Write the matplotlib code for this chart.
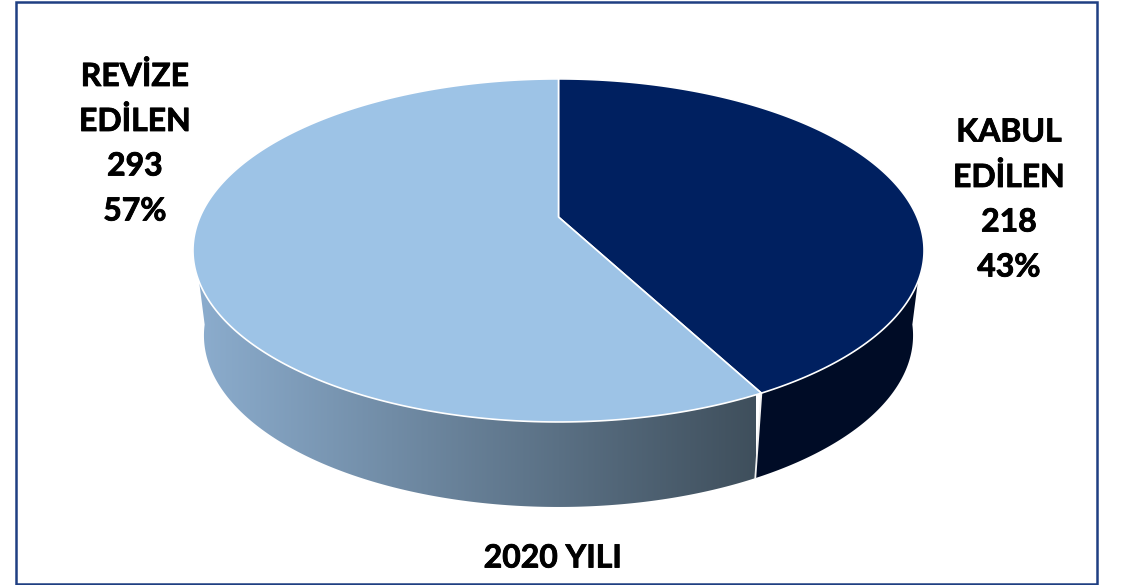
import numpy as np
import matplotlib
matplotlib.use("Agg")
import matplotlib.pyplot as plt
import matplotlib.patheffects as pe
from matplotlib.patches import Polygon, Rectangle

plt.rcParams['font.family'] = ['Lato', 'DejaVu Sans']

# data
labels = ["KABUL\nEDİLEN", "REVİZE\nEDİLEN"]
values = [218, 293]
footer = "2020 YILI"
top_colors = ["#002060", "#9DC3E6"]
wall_dark = "#000C26"
wall_left = "#8CADCE"
wall_right = "#3F4F5C"

W, H = 1130, 585

# projection of the tilted disc, in pixels
cx, apex_y = 558.5, 217
a, b, k = 358.5, 165, -0.195
depth, shrink = 85, 0.97
twist = 3.4  # degrees, small angular distortion of the 3d view
edge_r, edge_l = 101, 259  # where the rim is widest


def rim(deg, lower=False):
    t = np.radians(deg - twist * np.sin(np.radians(deg)))
    u, v = np.sin(t), -np.cos(t)
    d = 1 + k * v
    x = a * u / d
    y = apex_y + b * v / d
    if lower:
        return cx + x * shrink, y + depth
    return cx + x, y


def arc(d0, d1, lower=False, n=240):
    x, y = rim(np.linspace(d0, d1, n), lower)
    return np.column_stack([x, y])


fig = plt.figure(figsize=(W / 100, H / 100), dpi=100)
ax = fig.add_axes([0, 0, 1, 1])
ax.set_xlim(0, W)
ax.set_ylim(H, 0)
ax.axis("off")

ax.add_patch(Rectangle((16, 2), 1081, 582, fill=False, ec="#1F3F82", lw=1.8, zorder=1))

total = sum(values)
seam = 360 * values[0] / total

# side walls
right_wall = np.vstack([arc(edge_r, seam), arc(seam, edge_r, True)])
ax.add_patch(Polygon(right_wall, fc=wall_dark, ec="none", zorder=2))

left_wall = np.vstack([arc(seam, edge_l), arc(edge_l, seam, True)])
patch = Polygon(left_wall, fc="none", ec="none", zorder=2)
ax.add_patch(patch)
c0 = np.array(matplotlib.colors.to_rgb(wall_left))
c1 = np.array(matplotlib.colors.to_rgb(wall_right))
ramp = np.linspace(0, 1, 256)[None, :, None]
grad = c0[None, None, :] * (1 - ramp) + c1[None, None, :] * ramp
im = ax.imshow(grad, extent=(195, 756, 520, 240), aspect="auto", zorder=2)
im.set_clip_path(patch)
ax.set_xlim(0, W)
ax.set_ylim(H, 0)

# wall seam
sx0, sy0 = rim(seam)
sx1, sy1 = rim(seam, True)
ax.plot([sx0, sx1], [sy0, sy1], color="#F2F2F2", lw=1.3, zorder=3)

# top faces
start = 0
for val, col in zip(values, top_colors):
    end = start + 360 * val / total
    pts = np.vstack([[cx, apex_y], arc(start, end)])
    ax.add_patch(Polygon(pts, closed=True, fc=col, ec="white", lw=1.2, joinstyle="round", zorder=4))
    start = end

pct = [f"{round(100 * v / total)}%" for v in values]
heavy = [pe.withStroke(linewidth=0.6, foreground="black")]
txt = dict(ha="center", va="center", fontsize=23, fontweight="bold", color="black",
           zorder=5, path_effects=heavy)
for (x, y0), lab, v, p in zip([(1009, 132), (135, 76)], labels, values, pct):
    lines = lab.split("\n") + [str(v), p]
    for i, line in enumerate(lines):
        ax.text(x, y0 + 45 * i, line, **txt)
ax.text(553, 558, footer, **txt)

fig.savefig("out.png", dpi=100)
